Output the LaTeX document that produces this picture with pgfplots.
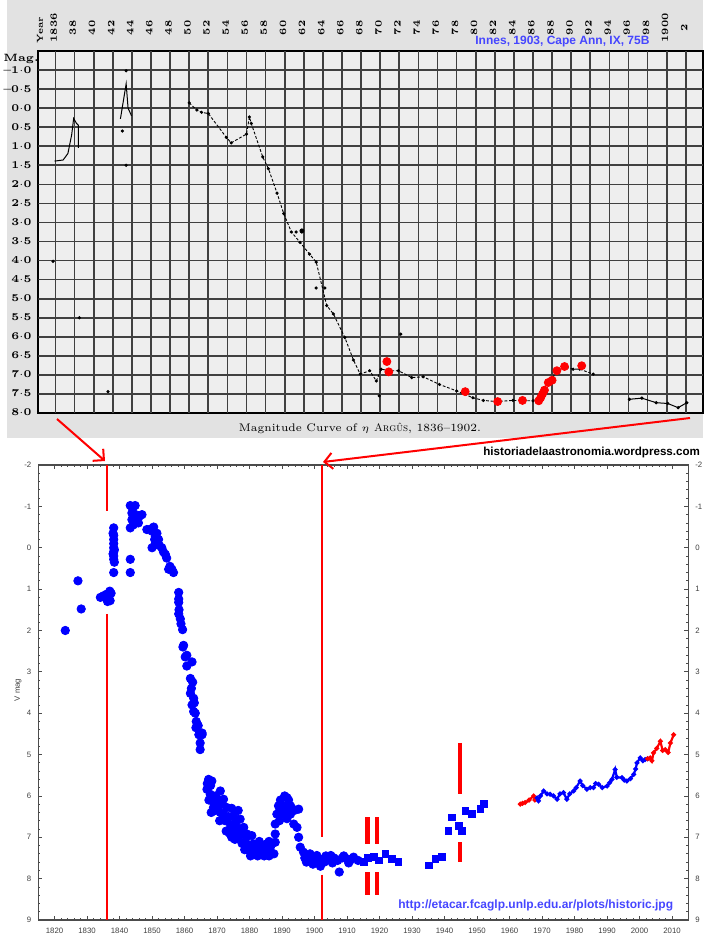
\documentclass[border=0pt]{standalone}
\usepackage{fontspec}
\setsansfont{Liberation Sans}
\usepackage{pgfplots}
\pgfplotsset{compat=1.18}
\usetikzlibrary{arrows.meta}
\definecolor{scan}{RGB}{226,226,226}
\definecolor{scangrid}{RGB}{238,238,238}
\definecolor{dblue}{RGB}{0,0,255}
\definecolor{lblue}{RGB}{70,70,255}
\definecolor{myred}{RGB}{255,0,0}

\pgfplotstableread{
x y
1823.3 2.0
1827.2 0.8
1828.2 1.48
1834.1 1.2
1835.1 1.16
1835.6 1.2
1836.1 1.12
1836.3 1.3
1836.6 1.16
1837.0 1.05
1837.1 1.28
1837.4 1.1
1836.8 1.25
1838.2 -0.48
1838.0 -0.35
1838.2 -0.3
1838.2 -0.2
1838.2 -0.1
1838.2 0.0
1838.4 0.05
1838.2 0.1
1838.0 0.15
1838.2 0.2
1838.2 0.28
1838.4 0.35
1838.2 0.6
1843.3 0.28
1843.3 0.6
1843.3 -1.02
1844.8 -1.02
1844.0 -0.95
1843.8 -0.84
1845.0 -0.8
1846.9 -0.8
1846.0 -0.75
1843.8 -0.68
1845.8 -0.6
1844.2 -0.55
1843.3 -0.48
1848.4 -0.44
1849.5 -0.45
1850.0 -0.4
1850.5 -0.5
1851.0 -0.28
1851.5 -0.35
1850.8 -0.2
1852.0 -0.2
1851.5 -0.1
1851.0 -0.1
1852.3 -0.05
1850.0 0.0
1853.0 0.0
1853.5 0.1
1854.1 0.16
1854.5 0.25
1855.5 0.45
1855.1 0.52
1856.1 0.52
1856.6 0.6
1858.2 1.08
1858.2 1.24
1858.2 1.32
1858.3 1.5
1858.2 1.6
1858.7 1.72
1858.9 1.84
1859.4 1.98
1859.5 2.4
1859.7 2.36
1860.2 2.64
1860.7 2.6
1862.3 2.76
1860.7 2.86
1861.8 3.16
1862.5 3.25
1862.1 3.4
1861.8 3.52
1862.8 3.64
1863.0 3.75
1862.3 3.8
1862.8 3.96
1863.3 4.0
1863.6 4.2
1864.2 4.3
1863.5 4.35
1864.4 4.52
1865.4 4.48
1865.4 4.52
1864.8 4.72
1864.8 4.88
1867.4 5.6
1868.4 5.64
1867.0 5.7
1868.0 5.75
1866.9 5.84
1867.9 5.96
1871.0 5.88
1869.5 6.0
1867.5 6.1
1870.3 6.1
1868.9 6.16
1872.0 6.08
1871.5 6.2
1868.9 6.28
1873.0 6.28
1874.5 6.3
1870.0 6.3
1869.5 6.35
1876.5 6.35
1868.2 6.4
1871.0 6.4
1872.0 6.44
1875.1 6.48
1873.5 6.5
1877.1 6.56
1872.5 6.6
1876.0 6.6
1870.8 6.6
1874.1 6.68
1876.1 6.76
1878.2 6.76
1874.0 6.8
1872.8 6.85
1873.8 6.9
1877.0 6.9
1875.6 6.92
1879.2 6.92
1880.7 6.96
1874.5 7.0
1876.6 7.0
1879.0 7.0
1875.5 7.05
1883.0 7.1
1886.0 7.1
1878.7 7.12
1887.9 7.12
1877.7 7.15
1885.5 7.15
1881.2 7.16
1880.0 7.2
1884.3 7.2
1882.3 7.24
1886.4 7.24
1878.5 7.3
1881.0 7.3
1883.0 7.3
1885.0 7.3
1879.7 7.32
1881.8 7.36
1884.0 7.36
1886.5 7.36
1887.5 7.4
1880.3 7.45
1882.5 7.45
1884.5 7.45
1886.0 7.45
1887.9 6.92
1887.9 6.68
1889.2 6.6
1888.4 6.44
1889.0 6.4
1888.9 6.24
1889.5 6.1
1890.8 6.0
1891.5 6.04
1890.5 6.24
1890.0 6.3
1891.8 6.3
1892.6 6.24
1890.2 6.44
1891.0 6.4
1892.6 6.44
1891.5 6.55
1892.0 6.1
1893.0 6.3
1893.8 6.35
1895.1 6.32
1893.6 6.68
1894.6 6.76
1895.1 7.0
1895.6 7.24
1896.6 7.36
1898.6 7.4
1897.0 7.5
1897.5 7.6
1899.0 7.5
1899.5 7.65
1900.7 7.44
1900.2 7.56
1901.0 7.6
1901.8 7.7
1902.7 7.52
1903.0 7.6
1903.5 7.45
1904.0 7.55
1905.0 7.44
1905.5 7.62
1906.0 7.5
1907.1 7.56
1907.6 7.84
1908.5 7.5
1909.0 7.45
1910.0 7.52
1910.5 7.62
1911.0 7.55
1912.0 7.48
1913.4 7.56
}\circdata

\pgfplotstableread{
x y
1915.1 7.6
1916.5 7.5
1918.2 7.48
1919.7 7.56
1921.8 7.4
1923.8 7.52
1925.8 7.6
1935.1 7.68
1937.2 7.52
1939.2 7.48
1941.2 6.84
1942.3 6.52
1944.3 6.72
1945.4 6.84
1946.4 6.36
1948.4 6.44
1951.0 6.32
1952.2 6.2
}\sqdata

\pgfplotstableread{
x y
1963.3 6.2
1964.0 6.18
1964.8 6.16
1966.0 6.1
1967.4 6.0
1967.8 6.1
}\redA

\pgfplotstableread{
x y
1968.5 6.05
1968.9 6.12
1969.5 6.0
1970.5 5.88
1971.5 5.95
1972.5 5.96
1973.5 6.0
1974.6 6.08
1975.5 5.95
1976.6 5.92
1977.6 6.08
1978.5 5.95
1979.7 5.88
1980.5 5.8
1981.7 5.64
1982.5 5.75
1983.8 5.84
1984.8 5.8
1985.8 5.8
1986.5 5.7
1987.4 5.72
1988.5 5.8
1990.0 5.76
1990.8 5.68
1991.5 5.6
1992.5 5.36
1993.0 5.55
1994.6 5.56
1995.3 5.62
1996.1 5.64
1997.2 5.58
1998.2 5.48
1998.8 5.35
1999.2 5.2
2000.2 5.08
2001.0 5.15
2001.7 5.12
2002.5 5.1
}\blueC

\pgfplotstableread{
x y
2002.5 5.1
2003.3 5.08
2003.8 5.15
2004.3 4.96
2005.3 4.85
2006.4 4.68
2007.1 4.9
2007.9 4.88
2008.8 4.95
2009.5 4.72
2010.5 4.52
}\redB

\begin{document}
\begin{tikzpicture}
\path[use as bounding box] (0,0) rectangle (351.5pt,-467.5pt);
\fill[scan] (3.5pt,0) rectangle (351.5pt,-219pt);

% ---------------- top (historic) panel ----------------
\begin{axis}[at={(19.15pt,-25.5pt)}, anchor=north west, scale only axis,
  width=332.35pt, height=181pt,
  xmin=1834.2, xmax=1903.8, ymin=-1.5, ymax=8, y dir=reverse,
  axis background/.style={fill=scangrid},
  xtick=\empty, ytick=\empty,
  axis line style={black, line width=1pt},
  major tick length=0pt,
]
\pgfplotsinvokeforeach{1836,1838,...,1902}{
  \draw[black!75, line width=0.85pt] (axis cs:#1,-1.5) -- (axis cs:#1,8);
}
\pgfplotsinvokeforeach{-1,-0.5,0,0.5,1,1.5,2,2.5,3,3.5,4,4.5,5,5.5,6,6.5,7,7.5}{
  \draw[black!75, line width=0.85pt] (axis cs:1834.2,#1) -- (axis cs:1903.8,#1);
}
\addplot[black, line width=0.5pt] coordinates {(1835.9,1.39) (1836.8,1.36) (1837.3,1.19) (1837.7,0.69) (1837.9,0.27) (1838.2,0.4) (1838.4,0.45) (1838.4,1.04)};
\addplot[black, line width=0.5pt] coordinates {(1842.8,0.28) (1843.4,-0.64) (1843.6,0.0) (1843.96,0.2)};
\addplot[black, line width=0.45pt, dash pattern=on 1.4pt off 0.9pt, mark=*, mark size=0.55pt, mark options={solid}] coordinates {
(1850.0,-0.14) (1850.8,0.05) (1851.3,0.11) (1852.0,0.14) (1853.9,0.77) (1854.4,0.91) (1856.0,0.68) (1856.3,0.23) (1856.5,0.4) (1857.7,1.28) (1858.3,1.59) (1859.2,2.23) (1859.9,2.77) (1860.7,3.25) (1861.6,3.52) (1862.6,3.83) (1863.3,4.04) (1864.4,5.18) (1865.1,5.4) (1866.3,6.02) (1867.2,6.61) (1867.9,6.98) (1868.9,6.89) (1869.6,7.16) (1870.1,6.85) (1871.0,6.89) (1871.9,6.89) (1873.3,7.07) (1874.5,7.05) (1876.2,7.25) (1878.0,7.42) (1879.7,7.6) (1880.8,7.67) (1882.2,7.7) (1883.9,7.67) (1886.0,7.68) (1887.2,7.46) (1887.8,7.16) (1888.5,6.91) (1889.2,6.78) (1890.2,6.85) (1890.9,6.85) (1892.3,6.98)};
\addplot[only marks, black, mark=*, mark size=0.6pt] coordinates {(1843.4,-0.98) (1843.0,0.6) (1843.4,1.5) (1835.75,4.02) (1838.5,5.5) (1841.5,7.44) (1869.9,7.55) (1872.15,5.93) (1861.8,3.25) (1861.2,3.25) (1863.3,4.72) (1864.2,4.72)};
\addplot[only marks, black, mark=*, mark size=1pt] coordinates {(1861.8,3.22)};
\addplot[black, line width=0.5pt, mark=*, mark size=0.55pt] coordinates {(1896.1,7.64) (1897.4,7.61) (1898.9,7.73) (1900.1,7.75) (1901.2,7.86) (1902.1,7.73)};
\addplot[only marks, myred, mark=*, mark size=2pt] coordinates {(1870.7,6.65) (1870.9,6.92) (1878.9,7.44) (1882.3,7.7) (1884.9,7.67) (1886.6,7.68) (1886.8,7.6) (1887.0,7.5) (1887.2,7.4) (1887.6,7.2) (1888.0,7.14) (1888.5,6.89) (1889.3,6.78) (1891.1,6.76)};
\end{axis}

% magnitude labels of the scan
\foreach \m/\lab in {-1/{–1${\cdot}$0},-0.5/{–0${\cdot}$5},0/{0${\cdot}$0},0.5/{0${\cdot}$5},1/{1${\cdot}$0},1.5/{1${\cdot}$5},2/{2${\cdot}$0},2.5/{2${\cdot}$5},3/{3${\cdot}$0},3.5/{3${\cdot}$5},4/{4${\cdot}$0},4.5/{4${\cdot}$5},5/{5${\cdot}$0},5.5/{5${\cdot}$5},6/{6${\cdot}$0},6.5/{6${\cdot}$5},7/{7${\cdot}$0},7.5/{7${\cdot}$5},8/{8${\cdot}$0}}{
  \node[anchor=east, inner sep=0pt, font=\fontsize{5.2}{6}\selectfont\bfseries] at (16pt,{-(25.5+(\m+1.5)*19)*1pt}) {\lab};
}
% year labels of the scan
\foreach \yr/\lab in {1836/1836,1838/38,1840/40,1842/42,1844/44,1846/46,1848/48,1850/50,1852/52,1854/54,1856/56,1858/58,1860/60,1862/62,1864/64,1866/66,1868/68,1870/70,1872/72,1874/74,1876/76,1878/78,1880/80,1882/82,1884/84,1886/86,1888/88,1890/90,1892/92,1894/94,1896/96,1898/98,1900/1900,1902/2}{
  \node[rotate=90, inner sep=0pt, font=\fontsize{4.8}{5}\selectfont\bfseries] at ({(26.9+(\yr-1836)*4.775)*1pt},-14pt) {\lab};
}
\node[rotate=90, inner sep=0pt, font=\fontsize{4.3}{5}\selectfont\bfseries] at (20pt,-15pt) {\textsc{Year}};
\node[inner sep=0pt, font=\fontsize{5.3}{6}\selectfont\bfseries] at (10.5pt,-29.5pt) {\textsc{Mag.}};
\node[inner sep=0pt, font=\fontsize{6}{7}\selectfont\sffamily\bfseries, text=lblue, anchor=west] at (237.5pt,-21pt) {Innes, 1903, Cape Ann, IX, 75B};
\node[inner sep=0pt, font=\fontsize{5.5}{7}\selectfont] at (180pt,-214pt) {Magnitude Curve of $\eta$ \textsc{Argûs}, 1836--1902.};

% ---------------- bottom (modern) panel ----------------
\begin{axis}[at={(19.15pt,-232.5pt)}, anchor=north west, scale only axis,
  width=325pt, height=227.5pt,
  xmin=1815, xmax=2015, ymin=-2, ymax=9, y dir=reverse,
  xtick={1820,1830,...,2010}, ytick={-2,-1,...,9},
  minor x tick num=4, minor y tick num=4,
  tick align=inside,
  major tick length=2pt, minor tick length=1pt,
  tick style={black!70, line width=0.4pt},
  axis line style={black!70, line width=0.7pt},
  /pgf/number format/assume math mode=true,
  /pgf/number format/1000 sep={},
  tick label style={font=\sffamily\fontsize{3.9}{4.5}\selectfont, text=black!75},
  xticklabel style={yshift=-0.5pt},
  clip=false,
]
\addplot[myred, line width=1pt] coordinates {(1836.1,-2) (1836.1,-0.9)};
\addplot[myred, line width=1pt] coordinates {(1836.1,1.6) (1836.1,9)};
\addplot[myred, line width=1pt] coordinates {(1902.3,-2) (1902.3,7.0)};
\addplot[myred, line width=1pt] coordinates {(1902.3,7.9) (1902.3,9)};
\addplot[myred, line width=2.2pt] coordinates {(1916.3,6.52) (1916.3,7.16)};
\addplot[myred, line width=2.2pt] coordinates {(1916.3,7.84) (1916.3,8.4)};
\addplot[myred, line width=2.2pt] coordinates {(1919.2,6.52) (1919.2,7.16)};
\addplot[myred, line width=2.2pt] coordinates {(1919.2,7.84) (1919.2,8.4)};
\addplot[myred, line width=2.2pt] coordinates {(1944.8,4.72) (1944.8,5.96)};
\addplot[myred, line width=2.2pt] coordinates {(1944.8,7.12) (1944.8,7.6)};
\addplot[only marks, mark=*, mark size=2.1pt, color=dblue] table {\circdata};
\addplot[only marks, mark=square*, mark size=1.7pt, color=dblue] table {\sqdata};
\addplot[myred, line width=1.1pt, mark=*, mark size=0.6pt] table {\redA};
\addplot[dblue, line width=1.1pt, mark=*, mark size=0.6pt] table {\blueC};
\addplot[myred, line width=1.1pt, mark=*, mark size=0.6pt] table {\redB};
\end{axis}
\begin{axis}[at={(19.15pt,-232.5pt)}, anchor=north west, scale only axis,
  width=325pt, height=227.5pt,
  xmin=1815, xmax=2015, ymin=-2, ymax=9, y dir=reverse,
  axis x line=none, axis y line*=right,
  ytick={-2,-1,...,9}, minor y tick num=4,
  tick align=inside, major tick length=2pt, minor tick length=1pt,
  tick style={black!70, line width=0.4pt},
  axis line style={black!70, line width=0.7pt},
  /pgf/number format/assume math mode=true,
  tick label style={font=\sffamily\fontsize{3.9}{4.5}\selectfont, text=black!75},
]
\addplot[draw=none] coordinates {(1900,0)};
\end{axis}
\node[rotate=90, inner sep=0pt, font=\sffamily\fontsize{3.9}{4.5}\selectfont, text=black!75] at (9pt,-345pt) {V mag};
\node[inner sep=0pt, anchor=west, font=\sffamily\bfseries\fontsize{5.8}{7}\selectfont] at (241.5pt,-226pt) {historiadelaastronomia.wordpress.com};
\node[inner sep=0pt, anchor=west, font=\sffamily\bfseries\fontsize{6}{7}\selectfont, text=lblue] at (199pt,-452.5pt) {http://etacar.fcaglp.unlp.edu.ar/plots/historic.jpg};

% arrows
\draw[myred, line width=1pt, -{Straight Barb[length=4pt]}] (28.5pt,-209.5pt) -- (52.5pt,-230.5pt);
\draw[myred, line width=1pt, -{Straight Barb[length=4pt]}] (345pt,-209pt) -- (161.5pt,-231pt);
\end{tikzpicture}
\end{document}
